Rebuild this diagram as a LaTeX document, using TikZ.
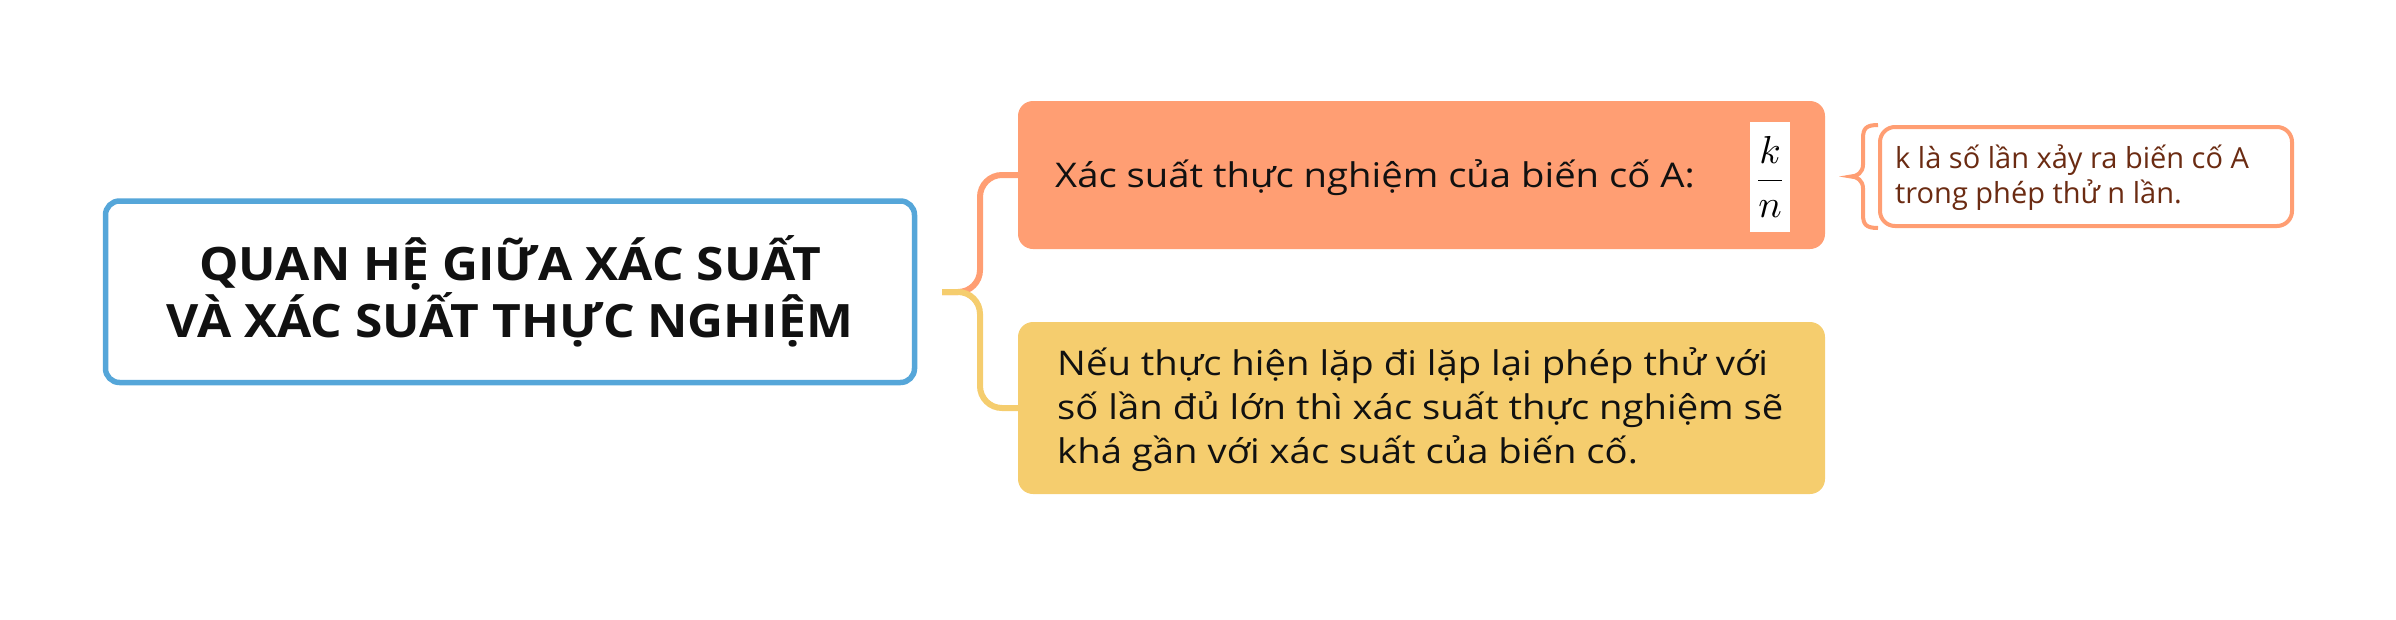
\documentclass[tikz,border=0pt]{standalone}
\usepackage{fontspec}
\usepackage{graphicx}
\setmainfont{Open Sans}
\newfontfamily\titlefont{Open Sans}[FakeStretch=1.08]
\newfontfamily\widefont{Open Sans}[FakeStretch=1.125]
\usetikzlibrary{calc}
\definecolor{rootblue}{HTML}{55A6D9}
\definecolor{salmon}{HTML}{FF9E73}
\definecolor{gold}{HTML}{F5CD6E}
\definecolor{brownt}{HTML}{6B2B12}
\definecolor{ink}{HTML}{111111}
\begin{document}
\begin{tikzpicture}[x=1pt,y=-1pt,
  rootbox/.style={draw=rootblue, line width=5.5pt, rounded corners=14pt, fill=white,
    minimum width=809pt, minimum height=181.5pt, inner sep=0pt},
  topicbox/.style={rounded corners=15pt, minimum width=807pt, inner sep=0pt, draw=none},
  notebox/.style={draw=salmon, line width=4pt, rounded corners=15pt, fill=white,
    minimum width=412pt, minimum height=99pt, inner sep=0pt},
  fracbox/.style={fill=white, minimum width=40pt, minimum height=110pt, inner sep=0pt},
  conn/.style={line width=6pt, rounded corners=22pt},
  titletext/.style={font=\titlefont\fontsize{46}{57}\selectfont\bfseries, text=ink, align=center, inner sep=0pt},
  bodytext/.style={font=\widefont\fontsize{34}{44}\selectfont, text=ink, align=left, inner sep=0pt},
  notetext/.style={font=\fontsize{29}{35}\selectfont, text=brownt, align=left, inner sep=0pt},
]
\useasboundingbox (0,0) rectangle (2396,619);

% root
\node[rootbox] (root) at (510,291.75) {};
\node[titletext, anchor=base] (title) at (510,337) {QUAN HỆ GIỮA XÁC SUẤT\\VÀ XÁC SUẤT THỰC NGHIỆM};

% topic boxes
\node[topicbox, fill=salmon, minimum height=148pt] (obox) at (1421.5,175) {};
\node[topicbox, fill=gold, minimum height=172pt] (ybox) at (1421.5,408) {};

% connectors
\coordinate (hub) at (942,292);
\draw[conn, draw=salmon] (hub) -- ++(38,0) |- (obox.west);
\draw[conn, draw=gold] (hub) -- ++(38,0) |- (ybox.west);

% texts
\node[bodytext, anchor=base west] (otext) at (1055,187) {Xác suất thực nghiệm của biến cố A:};
\node[fracbox] (frac) at (1770,177) {\scalebox{3.9}{$\displaystyle\frac{k}{n}$}};
\node[bodytext, anchor=base west] (ytext) at (1057,463) {Nếu thực hiện lặp đi lặp lại phép thử với\\số lần đủ lớn thì xác suất thực nghiệm sẽ\\khá gần với xác suất của biến cố.};

% note
\node[notebox] (note) at (2086,176.5) {};
\node[notetext, anchor=base west] (ntext) at (1895,203) {k là số lần xảy ra biến cố A\\trong phép thử n lần.};
\draw[draw=salmon, line width=4pt]
  ($(note.west)+(0,-51.5)$) .. controls ++(-12,0) and ++(0,-10) .. ($(note.west)+(-15,-38)$)
  -- ($(note.west)+(-15,-12)$) .. controls ++(0,8) and ++(6,0) .. ($(note.west)+(-27,0)$)
  .. controls ++(6,0) and ++(0,-8) .. ($(note.west)+(-15,12)$)
  -- ($(note.west)+(-15,38)$) .. controls ++(0,10) and ++(-12,0) .. ($(note.west)+(0,51.5)$);
\end{tikzpicture}
\end{document}
